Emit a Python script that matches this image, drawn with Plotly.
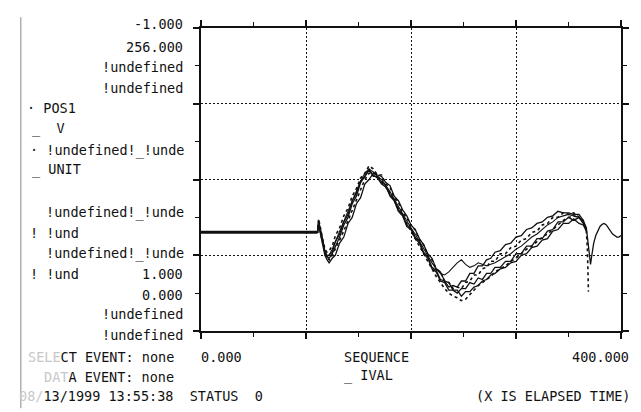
import plotly.graph_objects as go

# ---------------- data ----------------
X_FLAT = [0, 111]
Y_FLAT = [32.6, 32.6]

X_WAVE = [112, 114, 116, 118, 120, 122, 125, 128, 132, 136, 140, 144, 148, 152, 156, 160,
          164, 168, 172, 176, 180, 184, 188, 192, 196, 200, 204, 208, 212, 216, 220, 224,
          228, 232, 236, 240, 244, 248, 252, 256, 260, 264, 268, 272, 276, 280, 285, 290,
          295, 300, 305, 310, 315, 320, 325, 330, 335, 340, 345, 350, 355, 360, 364, 367]

Y_T1 = [36, 33, 29, 26, 24.5, 24, 25.5, 28, 31, 35, 37.5, 42, 44.5, 49, 51, 53.5,
        51, 51, 49, 48, 44.5, 43, 39.5, 38, 34.5, 33.5, 30.5, 29, 25.5, 24, 20.5, 19.5,
        16.5, 16, 13.5, 13.5, 12.5, 14, 14, 16, 15.5, 17.5, 17, 19, 19, 21, 21, 23,
        23, 25.5, 25.5, 28, 28, 30.5, 30.5, 33, 33.5, 36, 36, 37.5, 36.5, 37.5, 35.5, 34]
Y_T2 = [37, 34, 30.5, 27, 26, 26.5, 28, 31.5, 34, 38, 40.5, 44.5, 47, 50.5, 52, 54.5,
        53.5, 51.5, 51.5, 48.5, 47.5, 44, 42.5, 39, 37.5, 34.5, 33.5, 30, 28.5, 25, 23.5, 20.5,
        19.5, 16.5, 16, 14, 14.5, 14, 16, 16.5, 18.5, 18.5, 20.5, 21, 23, 23, 25.5, 25.5,
        27.5, 28, 30, 30.5, 32.5, 33, 35, 35.5, 37.5, 37.5, 39, 38.5, 39, 37.5, 36.5, 33]
Y_T3 = [35, 32, 28.5, 25, 23.5, 22.5, 24, 25, 29, 31, 35.5, 37.5, 42, 44, 48.5, 50,
        52, 51.5, 51, 49, 48, 44.5, 43, 40, 38, 35, 33.5, 30.5, 28.5, 25.5, 24, 20.5,
        19.5, 16.5, 16, 13.5, 13.5, 11.5, 13, 13, 14.5, 15, 16.5, 17, 18.5, 19, 20.5, 21,
        22.5, 23, 25, 25.5, 27.5, 28, 30, 30.5, 33, 33.5, 35.5, 35.5, 37, 35.5, 35, 33]
Y_T4 = [36.5, 33.5, 29.5, 26.5, 25, 25, 27, 29.5, 33, 36, 39.5, 43, 46, 49.5, 52, 53.5,
        52.5, 51, 50, 48, 46, 43.5, 41, 38.5, 36, 34, 32, 29.5, 27, 24.5, 22.5, 20.5,
        19, 18.5, 19.5, 21, 22.5, 23.5, 22, 21, 21.5, 22.5, 22, 21.5, 22, 22.5, 23.5, 24.5,
        25.5, 27, 28, 29.5, 31, 32, 33.5, 35, 36, 37.5, 38, 38.5, 38, 37.5, 36, 33]
Y_T5 = [35.5, 32.5, 28.5, 25.5, 24, 23.5, 25, 27, 30, 33, 36.5, 40, 43.5, 47, 50, 52,
        52.5, 51, 49.5, 47.5, 45.5, 43, 40.5, 38, 35.5, 33, 30.5, 28, 25.5, 23, 20.5, 18,
        16, 14, 12.5, 11.5, 11, 10, 10.5, 12, 13.5, 15, 16, 17, 18, 19.5, 20.5, 21.5,
        23, 24, 25.5, 27, 28, 29.5, 31, 32, 33.5, 35, 36.5, 37.5, 38, 37.5, 36, 33.5]
Y_T6 = [36, 33, 29, 26, 24.5, 25, 26, 29.5, 32, 36, 38.5, 43, 45.5, 49.5, 51, 53,
        51.5, 50.5, 48.5, 47.5, 45, 43.5, 40, 38.5, 35, 34, 31, 29.5, 26, 24.5, 21, 20,
        17, 16.5, 14.5, 15, 14.5, 16.5, 16.5, 19, 19, 21.5, 21.5, 23.5, 24, 26, 26.5, 28.5,
        29, 31, 31.5, 33.5, 34, 35.5, 36, 37.5, 38, 39.5, 39, 39, 38.5, 38.5, 36.5, 34]

X_SPIKE = [368, 369]
Y_SPIKE = [27, 13]

X_TAIL = [368, 370, 371, 372, 374, 376, 378, 380, 382, 384, 386, 388, 390, 392, 394, 396, 398, 400]
Y_TAIL = [31, 26, 22, 24.5, 29, 31.5, 33, 34.5, 35.2, 35.5, 35, 34, 33, 32, 31.5, 31, 31, 31.5]

# ---------------- figure ----------------
OFF = 8                      # page offset of the figure inside the browser window
PAGE_W, PAGE_H = 641, 412
W, H = PAGE_W - OFF, PAGE_H - OFF
PL, PR, PT, PB = 201, 623, 21, 331          # plot area in page pixels
L, T = PL - OFF, PT - OFF
R, B = W - (PR - OFF), H - (PB - OFF)
PW, PH = PR - PL, PB - PT

fig = go.Figure()
INK = "#111111"

fig.add_trace(go.Scatter(x=X_FLAT, y=Y_FLAT, mode="lines",
                         line=dict(color=INK, width=3), hoverinfo="skip"))

traces = [
    (Y_T1, "solid", 1.3, X_TAIL, Y_TAIL),
    (Y_T2, "dot", 1.6, X_SPIKE, Y_SPIKE),
    (Y_T3, "solid", 1.3, None, None),
    (Y_T4, "solid", 1.1, None, None),
    (Y_T5, "dot", 1.6, None, None),
    (Y_T6, "solid", 1.3, None, None),
]
for ys, dash, w, xt, yt in traces:
    xs = X_FLAT + X_WAVE + (xt if xt else [])
    yv = Y_FLAT + ys + (yt if yt else [])
    fig.add_trace(go.Scatter(x=xs, y=yv, mode="lines",
                             line=dict(color=INK, width=w, dash=dash), hoverinfo="skip"))

axis_common = dict(
    showline=True, linecolor=INK, linewidth=2, mirror="ticks",
    ticks="outside", ticklen=6, tickwidth=1.5, tickcolor=INK,
    showgrid=True, gridcolor=INK, gridwidth=1, griddash="2px,2px",
    zeroline=False, showticklabels=False,
)
fig.update_xaxes(range=[0, 400], dtick=100, tick0=0,
                 minor=dict(dtick=50, ticks="outside", ticklen=4, tickcolor=INK, tickwidth=1.2, showgrid=False),
                 **axis_common)
fig.update_yaxes(range=[0, 100], dtick=25, tick0=0,
                 minor=dict(dtick=12.5, ticks="outside", ticklen=4, tickcolor=INK, tickwidth=1.2, showgrid=False),
                 **axis_common)

FONT = dict(family="DejaVu Sans Mono", size=13.5, color=INK)


def px2p(px, py):
    return (px - PL) / PW, (PB - py) / PH


annots = []


def txt(px, py, s, anchor="left"):
    x, y = px2p(px, py)
    annots.append(dict(x=x, y=y, xref="paper", yref="paper", text=s, showarrow=False,
                       xanchor=anchor, yanchor="middle", font=FONT, borderpad=0))


FADE = '<span style="color:#c8c8c8">%s</span>'

txt(184, 17, "-1.000", "right")
txt(184, 40, "256.000", "right")
txt(184, 61, "!undefined", "right")
txt(184, 82, "!undefined", "right")
txt(25, 103, "· POS1")
txt(30, 124, "_&nbsp; V")
txt(185, 146, "· !undefined!_!unde", "right")
txt(30, 166, "_ UNIT")
txt(185, 210, "!undefined!_!unde", "right")
txt(28, 231, "! !und")
txt(185, 252, "!undefined!_!unde", "right")
txt(28, 273, "! !und")
txt(184, 273, "1.000", "right")
txt(184, 294, "0.000", "right")
txt(184, 314, "!undefined", "right")
txt(184, 335, "!undefined", "right")
txt(175, 358, (FADE % "SELE") + "CT EVENT: none", "right")
txt(175, 378, (FADE % "DAT") + "A EVENT: none", "right")
txt(17, 398, (FADE % "08/") + "13/1999 13:55:38&nbsp; STATUS&nbsp; 0")
txt(200, 358, "0.000")
txt(344, 358, "SEQUENCE")
txt(632, 358, "400.000", "right")
txt(344, 377, "_ IVAL")
txt(633, 398, "(X IS ELAPSED TIME)", "right")

x0, _ = px2p(20, 0)
_, y0 = px2p(0, 10)
_, y1 = px2p(0, 410)
shapes = [dict(type="line", xref="paper", yref="paper", x0=x0, x1=x0, y0=y0, y1=y1,
               line=dict(color="#888888", width=1))]

fig.update_layout(
    width=W, height=H, margin=dict(l=L, r=R, t=T, b=B),
    paper_bgcolor="white", plot_bgcolor="white", showlegend=False,
    annotations=annots, shapes=shapes,
)

fig.write_html("out.html")
